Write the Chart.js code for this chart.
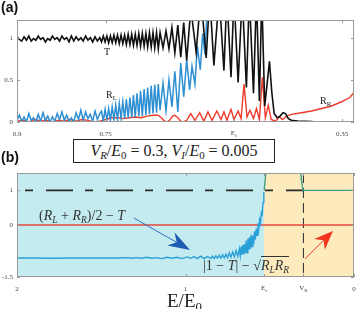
<!DOCTYPE html>
<html>
<head>
<meta charset="utf-8">
<title>T, R_L, R_R vs E/E0</title>
<script src="https://cdn.jsdelivr.net/npm/chart.js@4.4.1/dist/chart.umd.min.js"></script>
<style>
  html, body { margin:0; padding:0; background:#fff; }
  body { position:relative; width:359px; height:309px; overflow:hidden; font-family:"Liberation Serif","DejaVu Serif",serif; color:#222; }
  canvas { position:absolute; left:0; }
  #chartA { top:0; }
  #chartB { top:140px; }
  .t { position:absolute; white-space:nowrap; line-height:1; }
  .t sub { font-size:0.68em; vertical-align:-0.3em; line-height:0; }
  .panel { font-family:"Liberation Sans",Arial,sans-serif; font-weight:bold; font-size:14px; color:#111; }
  .small { font-size:10px; color:#222; }
  .eq { font-size:14px; color:#333; }
  .sq { border-top:1px solid #333; padding-top:1px; }
  #title { left:73px; top:139px; width:200px; height:22px; border:1px solid #222; background:#fff; font-size:16px; display:flex; align-items:center; justify-content:center; }
  #xlabel { left:167px; top:291px; font-size:19px; color:#222; }
</style>
</head>
<body>
<canvas id="chartA" width="359" height="140"></canvas>
<canvas id="chartB" width="359" height="169"></canvas>

<div class="t panel" style="left:1px;top:0px">(a)</div>
<div class="t panel" style="left:1px;top:150px">(b)</div>
<div class="t small" style="left:104px;top:47px">T</div>
<div class="t small" style="left:106px;top:90px">R<sub>L</sub></div>
<div class="t small" style="left:320px;top:96px">R<sub>R</sub></div>
<div class="t" id="title"><span><i>V</i><sub><i>R</i></sub>/<i>E</i><sub>0</sub> = 0.3, <i>V</i><sub><i>I</i></sub>/<i>E</i><sub>0</sub> = 0.005</span></div>
<div class="t eq" style="left:39px;top:209px">(<i>R</i><sub><i>L</i></sub> + <i>R</i><sub><i>R</i></sub>)/2 − <i>T</i></div>
<div class="t eq" style="left:203px;top:259px">|1 − <i>T</i>| − √<span class="sq"><i>R</i><sub><i>L</i></sub><i>R</i><sub><i>R</i></sub></span></div>
<div class="t" id="xlabel">E/E<sub>0</sub></div>

<script>
const SERIF = '"Liberation Serif", "DejaVu Serif", serif';
const EC = 0.533, VR = 0.3;

// axis ticks ('|' marks a subscript)
const aTicksX = [0.9, 0.75, EC, 0.35];
const aLabelsX = ['0.9', '0.75', 'E|c', '0.35'];
const aTicksY = [0, 0.5, 1];
const aLabelsY = ['0', '0.5', '1'];
const bTicksX = [2, 1, EC, VR, 0];
const bLabelsX = ['2', '1', 'E|c', 'V|R', '0'];
const bTicksY = [-1.5, 0, 1];
const bLabelsY = ['-1.5', '0', '1'];

// panel (a): energy grids shared by T and R_L
const gridA1 = [0.900,0.896,0.892,0.888,0.884,0.880,0.876,0.872,0.868,0.864,0.860,0.856,0.852,0.848,0.844,0.840,0.836,0.832,0.828,0.824,0.820,0.816,0.812,0.808,0.804,0.800,0.796,0.792,0.788,0.784,0.780,0.776,0.772,0.768,0.764,0.760];
const gridA2 = [0.757,0.754,0.751,0.748,0.745,0.742,0.739,0.736,0.733,0.730,0.727,0.724,0.721,0.718,0.715,0.712,0.709,0.706,0.703,0.700,0.697,0.694,0.691,0.688,0.685,0.682,0.679,0.676,0.673,0.670,0.667,0.664,0.661];

// T
const tE3 = [0.658,0.653,0.648,0.643,0.638,0.633,0.628,0.623,0.618,0.613,
  0.606,0.597,0.589,0.580,0.574,0.567,0.558,0.550,0.545,0.538,
  0.533,0.526,0.519,0.512,0.507,0.500,0.495,0.490,0.486,0.481,
  0.477,0.473,0.469,0.465,0.460,0.455,0.450,0.446,0.441,0.436,
  0.425,0.400,0.330];
const tV1 = [1.01,0.98,0.96,1.01,0.97,1.02,0.96,0.99,0.97,1.02,0.98,1.00,0.95,0.99,0.97,1.02,0.98,1.00,0.96,1.02,0.98,1.00,0.95,1.02,0.96,1.01,0.97,1.00,0.96,1.02,0.97,1.00,0.95,1.01,0.96,1.00];
const tV2 = [0.95,1.02,0.95,1.02,0.94,1.02,0.94,1.03,0.94,1.03,0.93,1.03,0.93,1.03,0.92,1.04,0.92,1.04,0.91,1.04,0.91,1.05,0.90,1.05,0.90,1.05,0.89,1.06,0.89,1.06,0.88,1.06,0.87];
const tV3 = [1.06,0.88,1.08,0.87,1.12,0.82,1.15,0.77,1.18,0.73,
  1.35,0.83,1.5,0.76,1.5,0.67,1.5,0.61,1.5,0.53,
  1.5,0.47,1.5,0.41,1.5,0.34,1.5,0.25,1.5,0.19,
  0.45,0.72,0.35,0.10,0.05,0.07,0.11,0.10,0.04,0.02,
  0.01,0.005,0.003];

// R_L
const rlV1 = [0.02,0.08,0.01,0.06,0.00,0.10,0.02,0.05,0.00,0.09,0.01,0.11,0.02,0.07,0.00,0.06,0.01,0.10,0.03,0.12,0.02,0.08,0.01,0.05,0.00,0.11,0.03,0.14,0.02,0.12,0.04,0.09,0.01,0.13,0.03,0.10];
const rlV2 = [0.13,0.01,0.15,0.02,0.16,0.02,0.18,0.03,0.20,0.03,0.22,0.04,0.24,0.04,0.27,0.05,0.29,0.05,0.32,0.06,0.34,0.07,0.37,0.07,0.39,0.08,0.41,0.09,0.43,0.10,0.44,0.11,0.45];
const rlE3 = [0.658,0.653,0.648,0.643,0.638,0.633,0.628,0.623,0.618,0.613,0.608,0.604,0.599,0.595,0.590,0.586,0.582,0.579,0.575];
const rlV3 = [0.14,0.46,0.13,0.50,0.18,0.60,0.12,0.70,0.30,0.74,0.38,0.66,0.45,0.90,0.62,1.05,0.80,1.25,1.45];

// R_R
const rrE = [0.900,0.890,0.880,0.870,0.860,0.850,0.840,0.830,0.820,0.810,0.800,0.790,0.780,0.770,0.760,
  0.750,0.740,0.730,0.720,0.710,0.700,0.690,0.680,0.670,
  0.662,0.657,0.652,0.647,0.642,0.637,0.633,0.628,0.623,0.619,
  0.613,0.606,0.599,0.591,0.584,0.577,0.570,0.562,0.555,0.550,0.545,0.538,0.533,0.526,0.521,
  0.516,0.511,0.506,0.500,0.495,0.490,0.485,0.480,0.475,0.470,0.463,0.456,0.451,0.444,0.436,
  0.419,0.402,0.385,0.368,0.351,0.337,0.328];
const rrV = [0.01,0.02,0.00,0.03,0.01,0.02,0.00,0.02,0.01,0.03,0.01,0.03,0.02,0.00,0.01,
  0.03,0.05,0.05,0.04,0.05,0.06,0.05,0.07,0.08,
  0.08,0.06,0.02,0.00,0.02,0.07,0.08,0.05,0.01,0.00,
  0.02,0.10,0.02,0.11,0.01,0.12,0.02,0.13,0.03,0.12,0.02,0.15,0.03,0.13,0.04,
  0.45,0.06,0.14,0.04,0.16,0.03,0.53,0.05,0.20,0.03,0.01,0.06,0.03,0.07,0.09,
  0.11,0.13,0.16,0.19,0.24,0.29,0.37];

// panel (b): (R_L+R_R)/2 - T
const bE = [2.0,1.9,1.8,1.7,1.6,1.5,1.4,1.35,1.32,1.29,1.26,1.23,1.20,1.17,1.14,1.11,1.08,1.05,1.02,0.99,0.97,0.95,0.93,0.91,0.89,0.87,
  0.85,0.84,0.83,0.82,0.81,0.80,0.79,0.78,0.77,0.76,0.75,0.74,0.73,0.72,0.71,0.70,0.69,0.68,
  0.675,0.67,0.665,0.66,0.655,0.65,0.645,0.64,0.635,0.63,0.625,0.62,0.615,0.61,0.605,0.60,0.595,0.59,0.585,0.58,0.575,0.57,0.565,0.56,0.555,0.55,0.545,0.54,0.535];
const bV = [-0.95,-0.95,-0.96,-0.95,-0.95,-0.95,-0.95,-0.94,-0.96,-0.94,-0.96,-0.93,-0.96,-0.94,-0.97,-0.93,-0.96,-0.93,-0.97,-0.92,-0.96,-0.91,-0.97,-0.90,-0.97,-0.91,
  -0.96,-0.90,-0.97,-0.89,-0.96,-0.87,-0.96,-0.86,-0.95,-0.84,-0.94,-0.80,-0.93,-0.78,-0.92,-0.74,-0.90,-0.68,
  -0.88,-0.62,-0.86,-0.58,-0.85,-0.55,-0.82,-0.45,-0.80,-0.40,-0.72,-0.35,-0.70,-0.28,-0.62,-0.30,-0.55,-0.18,-0.42,-0.10,-0.30,0.05,-0.12,0.15,0.05,0.35,0.30,0.65,0.95];
// |1-T| - sqrt(R_L R_R)
const gE = [0.533,0.527,0.520,0.320,0.312,0.303,0.0];
const gV = [1.0,1.3,1.8,1.8,1.3,1.0,1.0];
// reference lines
const dashE = [2, VR], dashV = [1, 1];
const vrE = [VR, VR], vrV = [1.5, -1.5];
const zeroE = [2, 0], zeroV = [0, 0];
// arrows [from, to] in (E, value)
const arrowBlue = [[1.306, 0.20], [0.973, -0.72]];
const arrowRed = [[0.291, -0.98], [0.125, -0.17]];

const pts = (xs, ys) => xs.map((x, i) => ({ x, y: ys[i] }));

function xAxis(min, max, ticks, labels, h) {
  return {
    type: 'linear', reverse: true, min, max,
    grid: { display: false, drawTicks: false }, border: { display: false },
    ticks: { autoSkip: false, maxRotation: 0, padding: 8, color: '#444', font: { family: SERIF, size: 7 },
      callback: (v, i) => labels[i] && labels[i].includes('|') ? '' : labels[i] },
    afterBuildTicks: s => { s.ticks = ticks.map(v => ({ value: v })); },
    afterFit: s => { s.height = h; s.paddingLeft = 0; s.paddingRight = 0; }
  };
}
function yAxis(min, max, ticks, labels) {
  return {
    min, max,
    grid: { display: false, drawTicks: false }, border: { display: false },
    ticks: { autoSkip: false, padding: 4, color: '#444', font: { family: SERIF, size: 7 },
      callback: (v, i) => labels[i] },
    afterBuildTicks: s => { s.ticks = ticks.map(v => ({ value: v })); },
    afterFit: s => { s.width = 17; s.paddingTop = 0; s.paddingBottom = 0; }
  };
}

// frame with inward ticks + subscripted tick labels
const framePlugin = {
  id: 'frame',
  afterDatasetsDraw(chart, args, opts) {
    const { ctx, chartArea: a, scales: { x, y } } = chart;
    ctx.save();
    ctx.strokeStyle = '#9a9a9a';
    ctx.lineWidth = 1;
    ctx.strokeRect(a.left + 0.5, a.top + 0.5, a.width - 1, a.height - 1);
    ctx.beginPath();
    x.ticks.forEach(t => {
      const p = Math.round(x.getPixelForValue(t.value)) + 0.5;
      ctx.moveTo(p, a.bottom); ctx.lineTo(p, a.bottom - 3);
      ctx.moveTo(p, a.top); ctx.lineTo(p, a.top + 3);
    });
    y.ticks.forEach(t => {
      const p = Math.round(y.getPixelForValue(t.value)) + 0.5;
      ctx.moveTo(a.left, p); ctx.lineTo(a.left + 3, p);
      ctx.moveTo(a.right, p); ctx.lineTo(a.right - 3, p);
    });
    ctx.stroke();
    // subscripted x labels
    ctx.fillStyle = '#444';
    ctx.textBaseline = 'top';
    (opts.labels || []).forEach((l, i) => {
      if (!l.includes('|')) return;
      const [m, s] = l.split('|');
      const px = x.getPixelForValue(opts.ticks[i]);
      ctx.font = '7px ' + SERIF;
      const w1 = ctx.measureText(m).width;
      ctx.font = '5px ' + SERIF;
      const w2 = ctx.measureText(s).width;
      const x0 = px - (w1 + w2) / 2, y0 = a.bottom + 8;
      ctx.font = '7px ' + SERIF;
      ctx.fillText(m, x0, y0);
      ctx.font = '5px ' + SERIF;
      ctx.fillText(s, x0 + w1, y0 + 3);
    });
    ctx.restore();
  }
};

const bandPlugin = {
  id: 'bands',
  beforeDatasetsDraw(chart) {
    const { ctx, chartArea: a, scales: { x } } = chart;
    const xc = x.getPixelForValue(EC);
    ctx.save();
    ctx.fillStyle = '#c4ecf0';
    ctx.fillRect(a.left, a.top, xc - a.left, a.height);
    ctx.fillStyle = '#fdebbe';
    ctx.fillRect(xc, a.top, a.right - xc, a.height);
    ctx.restore();
  }
};

function drawArrow(ctx, x0, y0, x1, y1, line, head, len, wid) {
  const dx = x1 - x0, dy = y1 - y0, d = Math.hypot(dx, dy);
  const ux = dx / d, uy = dy / d, nx = -uy, ny = ux;
  ctx.strokeStyle = line;
  ctx.lineWidth = 1;
  ctx.beginPath();
  ctx.moveTo(x0, y0);
  ctx.lineTo(x1 - ux * len * 0.7, y1 - uy * len * 0.7);
  ctx.stroke();
  ctx.fillStyle = head;
  ctx.beginPath();
  ctx.moveTo(x1, y1);
  ctx.lineTo(x1 - ux * len + nx * wid / 2, y1 - uy * len + ny * wid / 2);
  ctx.lineTo(x1 - ux * len * 0.7, y1 - uy * len * 0.7);
  ctx.lineTo(x1 - ux * len - nx * wid / 2, y1 - uy * len - ny * wid / 2);
  ctx.closePath();
  ctx.fill();
}

const arrowPlugin = {
  id: 'arrows',
  afterDraw(chart) {
    const { ctx, scales: { x, y } } = chart;
    const px = p => [x.getPixelForValue(p[0]), y.getPixelForValue(p[1])];
    ctx.save();
    const [b0, b1] = [px(arrowBlue[0]), px(arrowBlue[1])];
    drawArrow(ctx, b0[0], b0[1], b1[0], b1[1], '#2f6fc4', '#1d5cb0', 22, 15);
    const [r0, r1] = [px(arrowRed[0]), px(arrowRed[1])];
    drawArrow(ctx, r0[0], r0[1], r1[0], r1[1], '#f04030', '#f5331f', 19, 15);
    ctx.restore();
  }
};

const common = {
  responsive: false,
  animation: false,
  elements: { point: { radius: 0 }, line: { tension: 0 } },
};

new Chart(document.getElementById('chartA'), {
  type: 'line',
  data: {
    datasets: [
      { data: pts([...gridA1, ...gridA2, ...tE3], [...tV1, ...tV2, ...tV3]), borderColor: '#111', borderWidth: 1.6, order: 0 },
      { data: pts([...gridA1, ...gridA2, ...rlE3], [...rlV1, ...rlV2, ...rlV3]), borderColor: '#2e8fd3', borderWidth: 1.5, order: 1 },
      { data: pts(rrE, rrV), borderColor: '#ef3b2c', borderWidth: 1.4, order: 2 }
    ]
  },
  options: {
    ...common,
    layout: { padding: { top: 20, right: 5, left: 0, bottom: 0 } },
    plugins: { legend: { display: false }, tooltip: { enabled: false }, frame: { labels: aLabelsX, ticks: aTicksX } },
    scales: { x: xAxis(0.33, 0.9, aTicksX, aLabelsX, 18), y: yAxis(0, 1.21, aTicksY, aLabelsY) }
  },
  plugins: [framePlugin]
});

new Chart(document.getElementById('chartB'), {
  type: 'line',
  data: {
    datasets: [
      { data: pts(dashE, dashV), borderColor: '#2a2a2a', borderWidth: 1.8, borderDash: [27, 12, 8, 13], borderDashOffset: 31, order: 3 },
      { data: pts(vrE, vrV), borderColor: '#3a3a3a', borderWidth: 1.1, borderDash: [10, 5], order: 3 },
      { data: pts(zeroE, zeroV), borderColor: '#e5473a', borderWidth: 1.5, order: 2 },
      { data: pts(bE, bV), borderColor: '#2aa0d8', borderWidth: 1.4, order: 1 },
      { data: pts(gE, gV), borderColor: '#3e9e88', borderWidth: 1.4, order: 0 }
    ]
  },
  options: {
    ...common,
    layout: { padding: { top: 33, right: 5, left: 0, bottom: 0 } },
    plugins: { legend: { display: false }, tooltip: { enabled: false }, frame: { labels: bLabelsX, ticks: bTicksX } },
    scales: { x: xAxis(0, 2, bTicksX, bLabelsX, 32), y: yAxis(-1.5, 1.5, bTicksY, bLabelsY) }
  },
  plugins: [bandPlugin, framePlugin, arrowPlugin]
});
</script>
</body>
</html>
